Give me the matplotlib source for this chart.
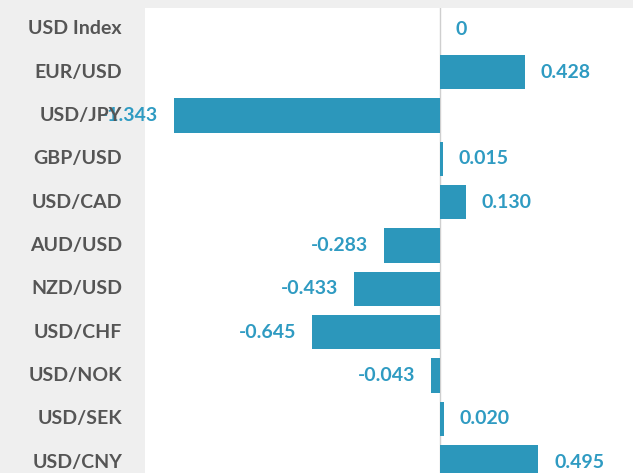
import matplotlib
matplotlib.use("Agg")
import matplotlib.pyplot as plt

categories = ["USD Index", "EUR/USD", "USD/JPY", "GBP/USD", "USD/CAD", "AUD/USD",
              "NZD/USD", "USD/CHF", "USD/NOK", "USD/SEK", "USD/CNY"]
values = [0, 0.428, -1.343, 0.015, 0.130, -0.283, -0.433, -0.645, -0.043, 0.020, 0.495]
value_labels = ["0", "0.428", "-1.343", "0.015", "0.130", "-0.283", "-0.433", "-0.645",
                "-0.043", "0.020", "0.495"]

BAR = "#2c97bb"
TXT = "#2f9bc2"
CAT = "#555555"
BG = "#efefef"

W, H = 633, 473
fig = plt.figure(figsize=(W / 100, H / 100), dpi=100)
fig.patch.set_facecolor(BG)

ax_left, ax_top = 145, 8
ax = fig.add_axes([ax_left / W, 0, (W - ax_left) / W, (H - ax_top) / H])
ax.set_facecolor("white")

px_per_unit = 198.4
zero_px = 440
row0, row_step = 29, 43.3
ax.set_xlim((ax_left - zero_px) / px_per_unit, (W - zero_px) / px_per_unit)
ax.set_ylim((H - row0) / row_step, (ax_top - row0) / row_step)

ys = list(range(len(categories)))
ax.barh(ys, values, height=0.79, color=BAR, zorder=2)
ax.axvline(0, color="#cfcfcf", lw=1, zorder=1)

for sp in ax.spines.values():
    sp.set_visible(False)
ax.set_xticks([])
ax.set_yticks([])

FS = 14
off = 16 / px_per_unit
for y, v, lab in zip(ys, values, value_labels):
    if v >= 0:
        ax.text(v + off, y, lab, ha="left", va="center", color=TXT,
                fontsize=FS, fontweight="bold", family="Lato", zorder=3, clip_on=False)
    else:
        ax.text(v - off, y, lab, ha="right", va="center", color=TXT,
                fontsize=FS, fontweight="bold", family="Lato", zorder=3, clip_on=False)

for y, c in zip(ys, categories):
    yp = row0 + row_step * y
    fig.text(122 / W, 1 - yp / H, c, ha="right", va="center", color=CAT,
             fontsize=FS, fontweight="bold", family="Lato", zorder=5)

fig.savefig("out.png", dpi=100, facecolor=BG)
